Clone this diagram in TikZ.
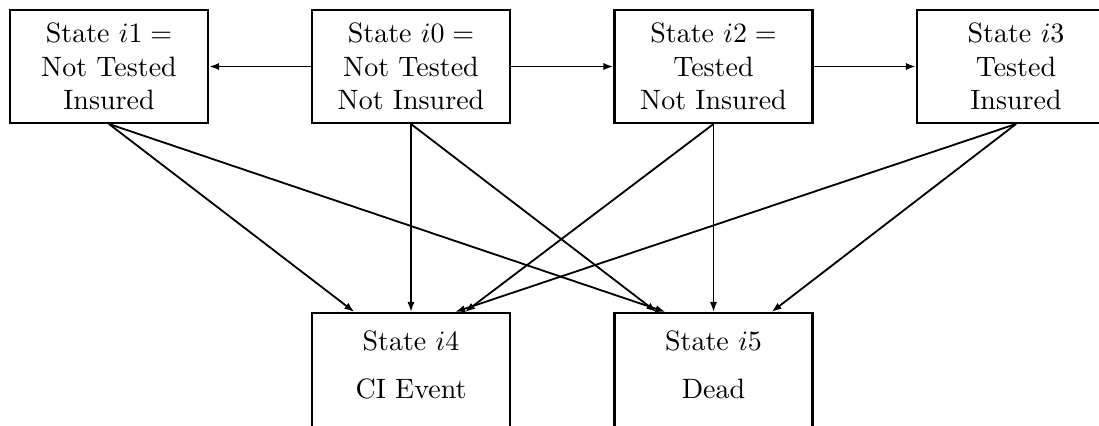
\documentclass[tikz,border=0pt]{standalone}
\usetikzlibrary{arrows.meta,calc}
\begin{document}
\begin{tikzpicture}[x=0.357pt,y=-0.357pt,
  statebox/.style={draw,line width=0.75pt,minimum width=70.7pt,minimum height=40.3pt,inner sep=0pt,align=center},
  lowbox/.style={draw,line width=0.75pt,minimum width=70.7pt,minimum height=60pt,inner sep=0pt,anchor=north},
  arr/.style={line width=0.65pt,-{Latex[length=3.6pt,width=2.6pt]}},
  lbl/.style={inner sep=0pt}]
\path[use as bounding box] (0,0) rectangle (1099,425);
\clip (0,0) rectangle (1099,425);
\node[statebox] (i1) at (109,66.5) {State $i1 =$\\Not Tested\\Insured};
\node[statebox] (i0) at (411,66.5) {State $i0 =$\\Not Tested\\Not Insured};
\node[statebox] (i2) at (713.5,66.5) {State $i2 =$\\Tested\\Not Insured};
\node[statebox] (i3) at (1016,66.5) {State $i3$\\Tested\\Insured};
\node[lowbox] (i4) at (411,312) {};
\node[lowbox] (i5) at (713.5,312) {};
\node[lbl] (t4a) at (411,341) {State $i4$};
\node[lbl] (t4b) at (411,389) {CI Event};
\node[lbl] (t5a) at (713.5,341) {State $i5$};
\node[lbl] (t5b) at (713.5,389) {Dead};
\coordinate (a41) at ($(i4.north west)!0.217!(i4.north east)$);
\coordinate (a43) at ($(i4.north west)!0.72!(i4.north east)$);
\coordinate (a42) at ($(i4.north west)!0.77!(i4.north east)$);
\coordinate (a50) at ($(i5.north west)!0.215!(i5.north east)$);
\coordinate (a51) at ($(i5.north west)!0.26!(i5.north east)$);
\coordinate (a53) at ($(i5.north west)!0.79!(i5.north east)$);
\draw[arr] (i0.west) -- (i1.east);
\draw[arr] (i0.east) -- (i2.west);
\draw[arr] (i2.east) -- (i3.west);
\draw[arr] (i1.south) -- (a41);
\draw[arr] (i1.south) -- (a51);
\draw[arr] (i0.south) -- (i4.north);
\draw[arr] (i0.south) -- (a50);
\draw[arr] (i2.south) -- (a42);
\draw[arr] (i2.south) -- (i5.north);
\draw[arr] (i3.south) -- (a43);
\draw[arr] (i3.south) -- (a53);
\end{tikzpicture}
\end{document}
